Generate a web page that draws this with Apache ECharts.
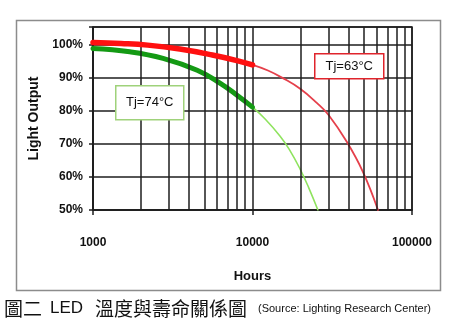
<!DOCTYPE html>
<html>
<head>
<meta charset="utf-8">
<script src="https://cdn.jsdelivr.net/npm/echarts@6/dist/echarts.min.js"></script>
<style>
  html, body { margin: 0; padding: 0; background: #fff; }
  #chart { width: 450px; height: 327px; }
</style>
</head>
<body>
<div id="chart"></div>
<script>
// Light output (%) over operating hours for two junction temperatures.
// Each curve has a bold measured part and a thin extrapolated part.
const hot74Measured = [[1000, 99.0], [1700, 98.0], [2750, 96.0], [4500, 92.4], [6250, 88.5], [8000, 84.8], [10000, 81.2]];
const hot74Projected = [[10000, 81.2], [12000, 77.6], [14900, 72.4], [17000, 68.4], [19850, 62.5], [22500, 56.8], [25700, 50.0]];
const warm63Measured = [[1000, 100.8], [1500, 100.5], [2200, 100.0], [3500, 98.8], [5600, 97.0], [8000, 95.3], [10000, 94.0]];
const warm63Projected = [[10000, 94.0], [12500, 92.3], [15500, 90.0], [20000, 86.7], [25400, 82.4], [30000, 78.8], [39100, 70.6], [49300, 61.5], [61200, 50.0]];

// log-scale grid lines between the decades
const minorHours = [2000, 3000, 4000, 5000, 6000, 7000, 8000, 9000, 20000, 30000, 40000, 50000, 60000, 70000, 80000, 90000];
const yTicks = [50, 60, 70, 80, 90, 100];

const gridColor = '#1e1e1e';
const chart = echarts.init(document.getElementById('chart'), null, { renderer: 'canvas' });

const lineSeries = (name, data, color, width, z) => ({
  name, type: 'line', data, smooth: 0.45,
  showSymbol: false, lineStyle: { color, width, cap: 'round', join: 'round' }, z
});

const callout = (left, top, w, h, text, stroke) => ({
  type: 'group', left, top, z: 200, children: [
    { type: 'rect', z: 200, shape: { x: 0, y: 0, width: w, height: h },
      style: { fill: '#ffffff', stroke, lineWidth: 1.5 } },
    { type: 'text', z: 201, x: w / 2, y: h / 2,
      style: { text, fill: '#111', font: '13px "Liberation Sans"', align: 'center', verticalAlign: 'middle' } }
  ]
});

chart.setOption({
  animation: false,
  backgroundColor: '#fff',
  grid: {
    left: 93, right: 38, top: 27, bottom: 117,
    show: true, borderColor: gridColor, borderWidth: 1.5, backgroundColor: '#fff'
  },
  xAxis: {
    type: 'log', logBase: 10, min: 1000, max: 100000,
    name: 'Hours', nameLocation: 'middle', nameGap: 60,
    nameTextStyle: { fontFamily: 'Liberation Sans', fontWeight: 'bold', fontSize: 13, color: '#111' },
    axisLine: { show: true, lineStyle: { color: gridColor, width: 1.5 } },
    axisTick: { show: true, length: 5, lineStyle: { color: gridColor, width: 1.5 } },
    axisLabel: {
      margin: 27, fontFamily: 'Liberation Sans', fontWeight: 'bold', fontSize: 12, color: '#111',
      formatter: v => String(Math.round(v))
    },
    splitLine: { show: true, lineStyle: { color: gridColor, width: 1.5 } },
    minorTick: { show: false }, minorSplitLine: { show: false }
  },
  yAxis: {
    type: 'value', min: 50, max: 105.5, interval: 10,
    name: 'Light Output', nameLocation: 'middle', nameGap: 49, nameRotate: 90,
    nameTextStyle: { fontFamily: 'Liberation Sans', fontWeight: 'bold', fontSize: 14, color: '#111' },
    axisLine: { show: true, lineStyle: { color: gridColor, width: 1.5 } },
    axisTick: { show: true, length: 4, lineStyle: { color: gridColor, width: 1.5 } },
    axisLabel: {
      margin: 10, fontFamily: 'Liberation Sans', fontWeight: 'bold', fontSize: 12, color: '#111',
      formatter: v => (yTicks.indexOf(v) >= 0 ? v + '%' : '')
    },
    splitLine: { show: true, lineStyle: { color: gridColor, width: 1.5 } }
  },
  series: [
    {
      name: 'minor', type: 'line', data: [], silent: true,
      markLine: {
        silent: true, symbol: 'none', animation: false,
        label: { show: false },
        lineStyle: { color: gridColor, width: 1.5, type: 'solid' },
        data: minorHours.map(h => ({ xAxis: h }))
      }
    },
    lineSeries('Tj=74°C projected', hot74Projected, '#8fe35f', 1.6, 3),
    lineSeries('Tj=74°C', hot74Measured, '#149a14', 5, 4),
    lineSeries('Tj=63°C projected', warm63Projected, '#e5404b', 1.8, 3),
    lineSeries('Tj=63°C', warm63Measured, '#ff1010', 5.5, 5)
  ],
  graphic: [
    // outer frame
    { type: 'rect', shape: { x: 16.5, y: 20.5, width: 424, height: 270 },
      style: { fill: null, stroke: '#8c8c8c', lineWidth: 1.5 }, z: 100, silent: true },
    // curve callouts
    callout(115, 85, 68, 34, 'Tj=74°C', '#9fd27a'),
    callout(314, 53, 69, 25, 'Tj=63°C', '#e0242c'),
    // caption
    { type: 'text', left: 4, top: 299, z: 100,
      style: { text: '圖二', fill: '#111', font: '19px "Noto Sans CJK TC"' } },
    { type: 'text', left: 50, top: 300, z: 100,
      style: { text: 'LED', fill: '#111', font: '17px "Liberation Sans"' } },
    { type: 'text', left: 95, top: 299, z: 100,
      style: { text: '溫度與壽命關係圖', fill: '#111', font: '19px "Noto Sans CJK TC"' } },
    { type: 'text', left: 258, top: 303, z: 100,
      style: { text: '(Source: Lighting Research Center)', fill: '#111', font: '11px "Liberation Sans"' } }
  ]
});
</script>
</body>
</html>
